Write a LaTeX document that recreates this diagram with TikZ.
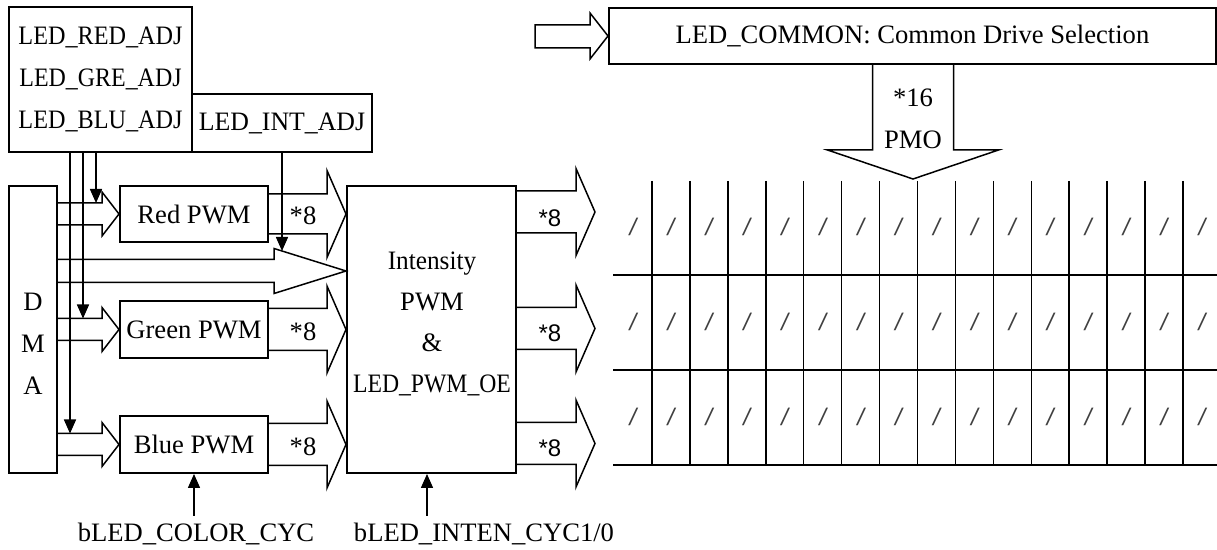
\documentclass[tikz,border=0pt]{standalone}
\usepackage{fontspec}
\usepackage{graphicx}
\setmainfont{Liberation Serif}
\newfontfamily\starfont{Liberation Sans}
\usetikzlibrary{arrows.meta,calc}

\tikzset{
  blk/.style={draw,line width=1pt,inner sep=0pt,align=center},
  fat/.style={line width=0.75pt},
  sig/.style={line width=0.75pt,-{Triangle[length=7pt,width=6pt]}},
  grd/.style={line width=0.75pt},
  slsh/.style={text=black!75,inner sep=0pt,font=\starfont\itshape\fontsize{12}{12}\selectfont},
  sans8/.style={font=\starfont\fontsize{12}{14}\selectfont},
}

% condensed label
\newcommand\squeeze[2]{\scalebox{#1}[1]{#2}}

% fat arrow: name, back, tip, shaft half width, head half width, head length
\newcommand\fatarrow[6]{%
  \path (#3) ++(-#6,-#4) coordinate (#1a) ++(0,2*#4) coordinate (#1b);
  \draw[fat] (#1a -| #2) -- (#1a) -- ++(0,#4-#5) -- (#3) -- ($(#1b)+(0,#5-#4)$) -- (#1b) -- (#1b -| #2);
}

\begin{document}
\begin{tikzpicture}[x=0.5pt,y=-0.5pt,font=\fontsize{13.3}{21}\selectfont]
\useasboundingbox (0,0) rectangle (1217,550);

% registers
\node[blk,minimum width=91.5pt,minimum height=72.5pt] (adj) at (100.5,79.5)
  {\squeeze{0.91}{LED\_RED\_ADJ}\\\squeeze{0.9}{LED\_GRE\_ADJ}\\\squeeze{0.91}{LED\_BLU\_ADJ}};
\node[blk,minimum width=90pt,minimum height=29pt] (intadj) at (282,123) {\squeeze{0.97}{LED\_INT\_ADJ}};

% left blocks
\node[blk,minimum width=24pt,minimum height=143.5pt] (dma) at (33,329.5) {};
\node[align=center] (dmatxt) at (33,344) {D\\M\\A};
\node[blk,minimum width=74pt,minimum height=28pt] (red) at (194,214) {Red PWM};
\node[blk,minimum width=74pt,minimum height=28.5pt] (green) at (194,329.5) {Green PWM};
\node[blk,minimum width=74pt,minimum height=28.5pt] (blue) at (194,444.5) {Blue PWM};
\node[blk,minimum width=84.5pt,minimum height=143.5pt] (intens) at (431.5,329.5) {};
\node[align=center,font=\fontsize{13.3}{20.5}\selectfont] (intxt) at (432,324)
  {\squeeze{0.95}{Intensity}\\PWM\\\&\\\squeeze{0.89}{LED\_PWM\_OE}};

\node[blk,minimum width=303.5pt,minimum height=28pt] (common) at (912.5,36) {LED\_COMMON: Common Drive Selection};

% tips
\coordinate (midtip) at ($(intens.west)+(0,-58.5)$);
\coordinate (out1) at (595,212);
\coordinate (out2) at (595,328.5);
\coordinate (out3) at (595,443.5);
\coordinate (pmotip) at (913,179);

% DMA to PWM
\fatarrow{rin}{dma.east}{red.west}{11}{22}{17}
\fatarrow{gin}{dma.east}{green.west}{11}{22}{17}
\fatarrow{bin}{dma.east}{blue.west}{11}{22}{17}
\fatarrow{mid}{dma.east}{midtip}{11.5}{22.5}{72}

% PWM to intensity
\fatarrow{rout}{red.east}{intens.west |- red.east}{20}{43.5}{19}
\fatarrow{gout}{green.east}{intens.west |- green.east}{21}{43.5}{19}
\fatarrow{bout}{blue.east}{intens.west |- blue.east}{21}{43.5}{19}
\node (r8) at (303,216) {*8};
\node (g8) at (303,332) {*8};
\node (b8) at (303,447) {*8};

% intensity out
\fatarrow{oa}{intens.east}{out1}{21}{43.5}{19}
\fatarrow{ob}{intens.east}{out2}{21}{43.5}{19}
\fatarrow{oc}{intens.east}{out3}{21}{43.5}{19}
\node[sans8] (o8a) at (550,218) {*8};
\node[sans8] (o8b) at (550,333) {*8};
\node[sans8] (o8c) at (550,448) {*8};

% adjust lines
\draw[sig] (96,0 |- adj.south) -- (96,0 |- rina);
\draw[sig] (83,0 |- adj.south) -- (83,0 |- gina);
\draw[sig] (70,0 |- adj.south) -- (70,0 |- bina);
\draw[sig] (intadj.south) -- (intadj.south |- 0,251);

% cycle inputs
\node (colorlbl) at (196,534) {bLED\_COLOR\_CYC};
\node (intlbl) at (484,534) {bLED\_INTEN\_CYC1/0};
\draw[sig] (blue.south |- colorlbl.north) -- (blue.south);
\draw[sig] (427,0 |- intlbl.north) -- (427,0 |- intens.south);

% common drive
\draw[fat] (535,25) -- (590,25) -- (590,13) -- (common.west) -- (590,59) -- (590,48) -- (535,48) -- cycle;
\draw[fat] (pmotip) ++(-40.5,-115) -- ++(0,86) -- ++(-45,0) -- (pmotip) -- ++(85.5,-29) -- ++(-45,0) -- ++(0,-86);
\node (pmo16) at (913,98) {*16};
\node (pmolbl) at (913,140) {PMO};

% LED matrix
\foreach \i in {0,...,14}
  \draw[grd] ({652+37.93*\i},181) -- ({652+37.93*\i},465);
\foreach \y in {275,370,465}
  \draw[grd] (613,\y) -- (1217,\y);
\foreach \i in {0,...,15}
  \foreach \y [count=\r] in {227,322,417}
    \node[slsh] (sl\i-\r) at ({633+37.93*\i},\y) {/};

\end{tikzpicture}
\end{document}
